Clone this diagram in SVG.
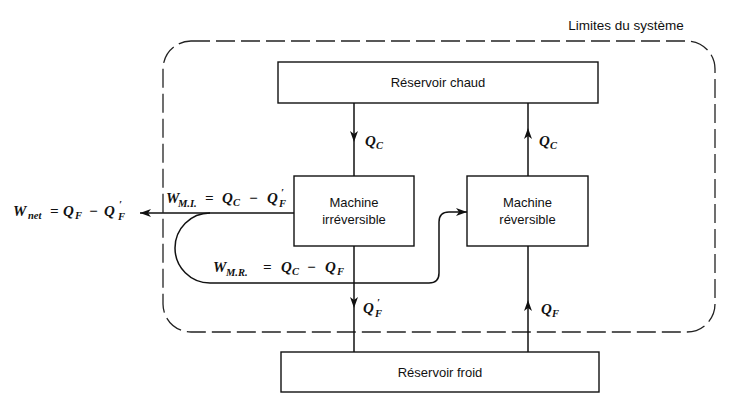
<svg xmlns="http://www.w3.org/2000/svg" width="735" height="400" viewBox="0 0 735 400">
<defs>
<style>
.box{fill:#fff;stroke:#111;stroke-width:1.4}
.ln{fill:none;stroke:#111;stroke-width:1.5}
.bound{fill:none;stroke:#222;stroke-width:1.3;stroke-dasharray:19 6}
.lab{font-family:"Liberation Sans",Arial,sans-serif;font-size:13px;fill:#111;text-anchor:middle}
.m{font-family:"Liberation Serif","Times New Roman",serif;font-style:italic;font-weight:bold;font-size:15px;fill:#111}
.s{font-size:10.5px}
</style>
<marker id="ah" markerUnits="userSpaceOnUse" markerWidth="12" markerHeight="8" refX="11" refY="4" orient="auto">
<path d="M0,0 L11,4 L0,8 L3,4 z" fill="#111"/>
</marker>
</defs>
<rect width="735" height="400" fill="#fff"/>
<g id="boundary">
<rect class="bound" x="163" y="41" width="552" height="291" rx="28" ry="28"/>
<text x="626" y="30" class="lab" style="font-size:13.5px">Limites du système</text>
</g>
<g id="connectors">
<polyline class="ln" points="354,103 354,142 354,176" marker-mid="url(#ah)"/>
<polyline class="ln" points="528,176 528,128 528,103" marker-mid="url(#ah)"/>
<polyline class="ln" points="354,246 354,308 354,352" marker-mid="url(#ah)"/>
<polyline class="ln" points="528,352 528,300 528,246" marker-mid="url(#ah)"/>
<line class="ln" x1="294" y1="213" x2="140" y2="213" marker-end="url(#ah)"/>
<path class="ln" d="M210,213 A35,35 0 0 0 210,283 L429,283 Q439,283 439,273 L439,222 Q439,212 449,212 L467,212" marker-end="url(#ah)"/>
</g>
<g id="reservoir-chaud">
<rect class="box" x="278" y="62" width="320" height="41"/>
<text x="438" y="87" class="lab">Réservoir chaud</text>
</g>
<g id="machine-irreversible">
<rect class="box" x="294" y="176" width="120" height="70"/>
<text x="354" y="207" class="lab">Machine</text>
<text x="354" y="224" class="lab">irréversible</text>
</g>
<g id="machine-reversible">
<rect class="box" x="467" y="176" width="121" height="70"/>
<text x="527.5" y="207" class="lab">Machine</text>
<text x="527.5" y="224" class="lab">réversible</text>
</g>
<g id="reservoir-froid">
<rect class="box" x="281" y="352" width="318" height="40"/>
<text x="440" y="377" class="lab">Réservoir froid</text>
</g>
<g id="labels">
<text class="m" y="146"><tspan x="365">Q</tspan><tspan class="s" x="376" y="149">C</tspan></text>
<text class="m" y="146"><tspan x="539">Q</tspan><tspan class="s" x="550" y="149">C</tspan></text>
<text class="m" y="313"><tspan x="363">Q</tspan><tspan class="s" x="377" y="306">′</tspan><tspan class="s" x="375" y="317">F</tspan></text>
<text class="m" y="314"><tspan x="541">Q</tspan><tspan class="s" x="552" y="317">F</tspan></text>
<text class="m" y="216"><tspan x="13">W</tspan><tspan class="s" x="28" y="219">net</tspan><tspan x="50" y="216">=</tspan><tspan x="63">Q</tspan><tspan class="s" x="75" y="219">F</tspan><tspan x="89" y="216">−</tspan><tspan x="104">Q</tspan><tspan class="s" x="119" y="208">′</tspan><tspan class="s" x="118" y="220">F</tspan></text>
<text class="m" y="203"><tspan x="166">W</tspan><tspan class="s" x="178" y="207">M.I.</tspan><tspan x="205" y="203">=</tspan><tspan x="222">Q</tspan><tspan class="s" x="233" y="206">C</tspan><tspan x="249" y="203">−</tspan><tspan x="267">Q</tspan><tspan class="s" x="281" y="196">′</tspan><tspan class="s" x="279" y="207">F</tspan></text>
<text class="m" y="272"><tspan x="213">W</tspan><tspan class="s" x="226" y="276">M.R.</tspan><tspan x="263" y="272">=</tspan><tspan x="281">Q</tspan><tspan class="s" x="292" y="275">C</tspan><tspan x="307" y="272">−</tspan><tspan x="325">Q</tspan><tspan class="s" x="337" y="275">F</tspan></text>
</g>
</svg>
